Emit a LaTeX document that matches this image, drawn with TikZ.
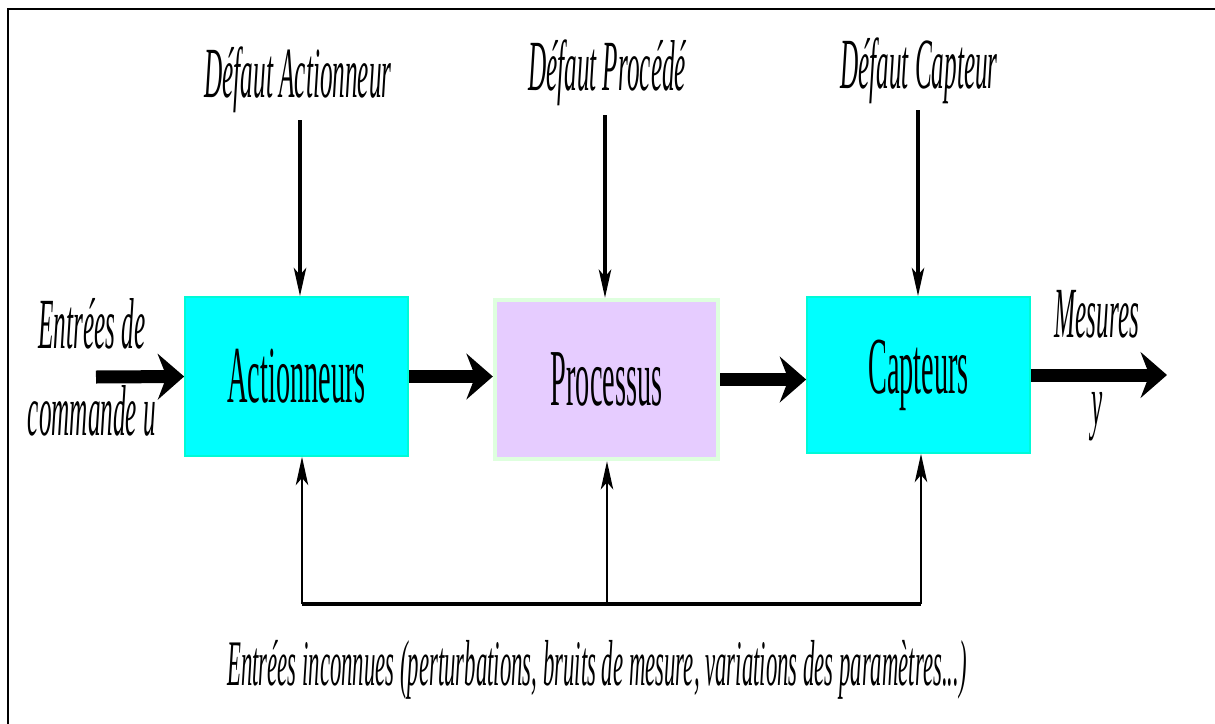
\documentclass[tikz,border=0pt]{standalone}
\usepackage{fontspec}
\setmainfont{Liberation Serif}
\newfontfamily\narrowserif[FakeStretch=0.35]{Liberation Serif}
\usetikzlibrary{arrows.meta}

\definecolor{boxcyan}{RGB}{0,255,255}
\definecolor{edgecyan}{RGB}{0,250,215}
\definecolor{boxlilac}{RGB}{230,204,255}
\definecolor{edgegreen}{RGB}{222,255,222}

\tikzset{
  block/.style={minimum width=4.46cm, minimum height=3.18cm, inner sep=0pt,
    font=\narrowserif\fontsize{46}{46}\selectfont},
  lbl/.style={anchor=base, inner sep=0pt,
    font=\narrowserif\itshape\fontsize{41}{41}\selectfont},
  bigarrow/.style={line width=7.4pt, -{Stealth[length=15pt,width=26pt,inset=5pt]}},
  thinarrow/.style={line width=2.2pt, -{Stealth[length=16pt,width=7pt,inset=4pt]}},
}

\begin{document}
\begin{tikzpicture}[x=0.02cm, y=-0.02cm]
  \useasboundingbox (0,0) rectangle (1215,724);

  %% frame
  \draw[line width=1.7pt] (8,724) -- (8,9) -- (1215,9);

  %% blocks
  \node[block, fill=boxcyan, draw=edgecyan, line width=1pt] (act) at (296.5,376.5) {Actionneurs};
  \node[block, fill=boxlilac, draw=edgegreen, line width=2.5pt] (proc) at (606.5,379.5) {Processus};
  \node[block, fill=boxcyan, draw=edgecyan, line width=1pt, minimum height=3.12cm] (cap) at (918.5,375) {Capteurs};

  %% labels
  \node[lbl] (dact) at (298,97) {Défaut Actionneur};
  \node[lbl] (dproc) at (607,90) {Défaut Procédé};
  \node[lbl] (dcap) at (919,88) {Défaut Capteur};
  \node[lbl] (cmd1) at (92,348) {Entrées de};
  \node[lbl] (cmd2) at (92,435) {commande u};
  \node[lbl] (mes) at (1097,337) {Mesures};
  \node[lbl] (ylbl) at (1097,425) {y};
  \node[lbl, font=\narrowserif\itshape\fontsize{37}{37}\selectfont] (unk) at (597,685)
    {Entrées inconnues (perturbations, bruits de mesure, variations des paramètres...)};

  %% main chain
  \coordinate (inp) at (96,377);
  \coordinate (outp) at (1167,375);
  \draw[bigarrow] (inp) -- (act.west);
  \draw[bigarrow] (act.east) -- (act.east -| proc.west);
  \draw[bigarrow] (proc.east) -- (proc.east -| cap.west);
  \draw[bigarrow] (cap.east) -- (outp);

  %% faults
  \coordinate (ta) at (300,120);
  \coordinate (tp) at (605,115);
  \coordinate (tc) at (918,110);
  \foreach \fd/\blk in {ta/act, tp/proc, tc/cap}
    \draw[thinarrow] (\fd) -- (\fd |- \blk.north);

  %% unknown inputs
  \coordinate (ba) at (302,604);
  \coordinate (bp) at (607,604);
  \coordinate (bc) at (921,604);
  \draw[line width=2pt] (ba) -- (bc);
  \foreach \fb/\blk in {ba/act, bp/proc, bc/cap}
    \draw[thinarrow, line width=1.7pt] (\fb) -- (\fb |- \blk.south);

\end{tikzpicture}
\end{document}
